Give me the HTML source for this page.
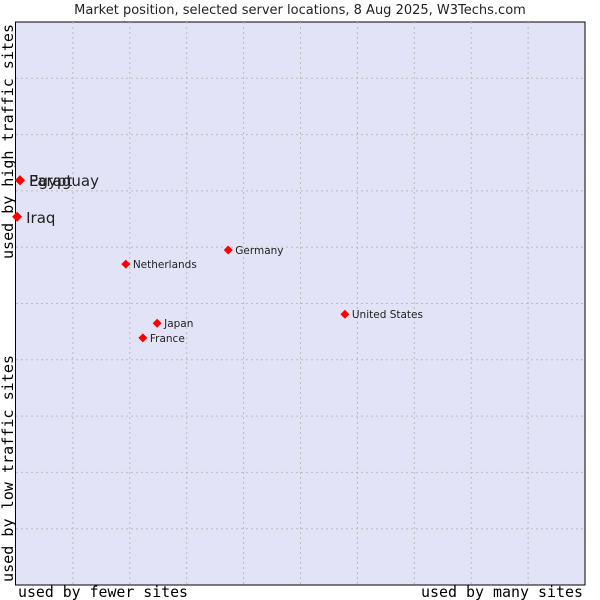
<!DOCTYPE html>
<html><head><meta charset="utf-8"><style>
body{margin:0;background:#fff;}
svg{display:block;font-family:"DejaVu Sans","Liberation Sans",sans-serif;}
</style></head><body>
<svg id="chart" width="600" height="600">
<text x="300" y="14" text-anchor="middle" font-size="13" fill="#222">Market position, selected server locations, 8 Aug 2025, W3Techs.com</text>
<rect x="15.5" y="22" width="569.5" height="563" fill="#e3e3f7" stroke="#000" stroke-width="1"/>
<g id="grid"></g>
<g id="points"></g>
<text x="18" y="597" textLength="170" lengthAdjust="spacingAndGlyphs" font-family="'DejaVu Sans Mono','Liberation Mono',monospace" font-size="15" fill="#000">used by fewer sites</text>
<text x="421" y="597" textLength="162" lengthAdjust="spacingAndGlyphs" font-family="'DejaVu Sans Mono','Liberation Mono',monospace" font-size="15" fill="#000">used by many sites</text>
<text transform="translate(13,582) rotate(-90)" textLength="227" lengthAdjust="spacingAndGlyphs" font-family="'DejaVu Sans Mono','Liberation Mono',monospace" font-size="15" fill="#000">used by low traffic sites</text>
<text transform="translate(13,259) rotate(-90)" textLength="235" lengthAdjust="spacingAndGlyphs" font-family="'DejaVu Sans Mono','Liberation Mono',monospace" font-size="15" fill="#000">used by high traffic sites</text>
</svg>
<script>
const countries=["Paraguay","Egypt","Iraq","Netherlands","Germany","Japan","France","United States"];
const xValues=[0.7,0.7,0.2,19.3,37.3,24.8,22.3,57.8];
const yValues=[71.9,71.9,65.4,57.0,59.5,46.5,43.9,48.1];
const labelSizes=[15,15,15,10.5,10.5,10.5,10.5,10.5];
const L=16,R=585,T=22,B=585;
const sx=v=>L+v/100*(R-L);
const sy=v=>B-v/100*(B-T);
const NS="http://www.w3.org/2000/svg";
const grid=document.getElementById('grid');
for(let i=1;i<10;i++){
  const x=L+i*(R-L)/10, y=T+i*(B-T)/10;
  const lv=document.createElementNS(NS,'line');
  lv.setAttribute('x1',x);lv.setAttribute('x2',x);lv.setAttribute('y1',T);lv.setAttribute('y2',B);
  lv.setAttribute('stroke','#bbb');lv.setAttribute('stroke-dasharray','2,3');
  
  
  grid.appendChild(lv);
  const lh=document.createElementNS(NS,'line');
  lh.setAttribute('y1',y);lh.setAttribute('y2',y);lh.setAttribute('x1',L);lh.setAttribute('x2',R);
  lh.setAttribute('stroke','#bbb');lh.setAttribute('stroke-dasharray','2,3');
  
  
  grid.appendChild(lh);
}
const pts=document.getElementById('points');
countries.forEach((c,i)=>{
  const x=sx(xValues[i]),y=sy(yValues[i]);
  const big=labelSizes[i]>12;
  const r=big?5:4.5;
  const d=document.createElementNS(NS,'path');
  d.setAttribute('d',`M${x-r},${y}L${x},${y-r}L${x+r},${y}L${x},${y+r}Z`);
  d.setAttribute('fill','#f00');
  
  
  pts.appendChild(d);
  const t=document.createElementNS(NS,'text');
  t.setAttribute('x',x+(big?9:7));t.setAttribute('y',y+(big?6:4));
  t.setAttribute('font-size',labelSizes[i]);t.setAttribute('fill','#222');
  t.textContent=c;
  
  
  pts.appendChild(t);
});
</script>
</body></html>
